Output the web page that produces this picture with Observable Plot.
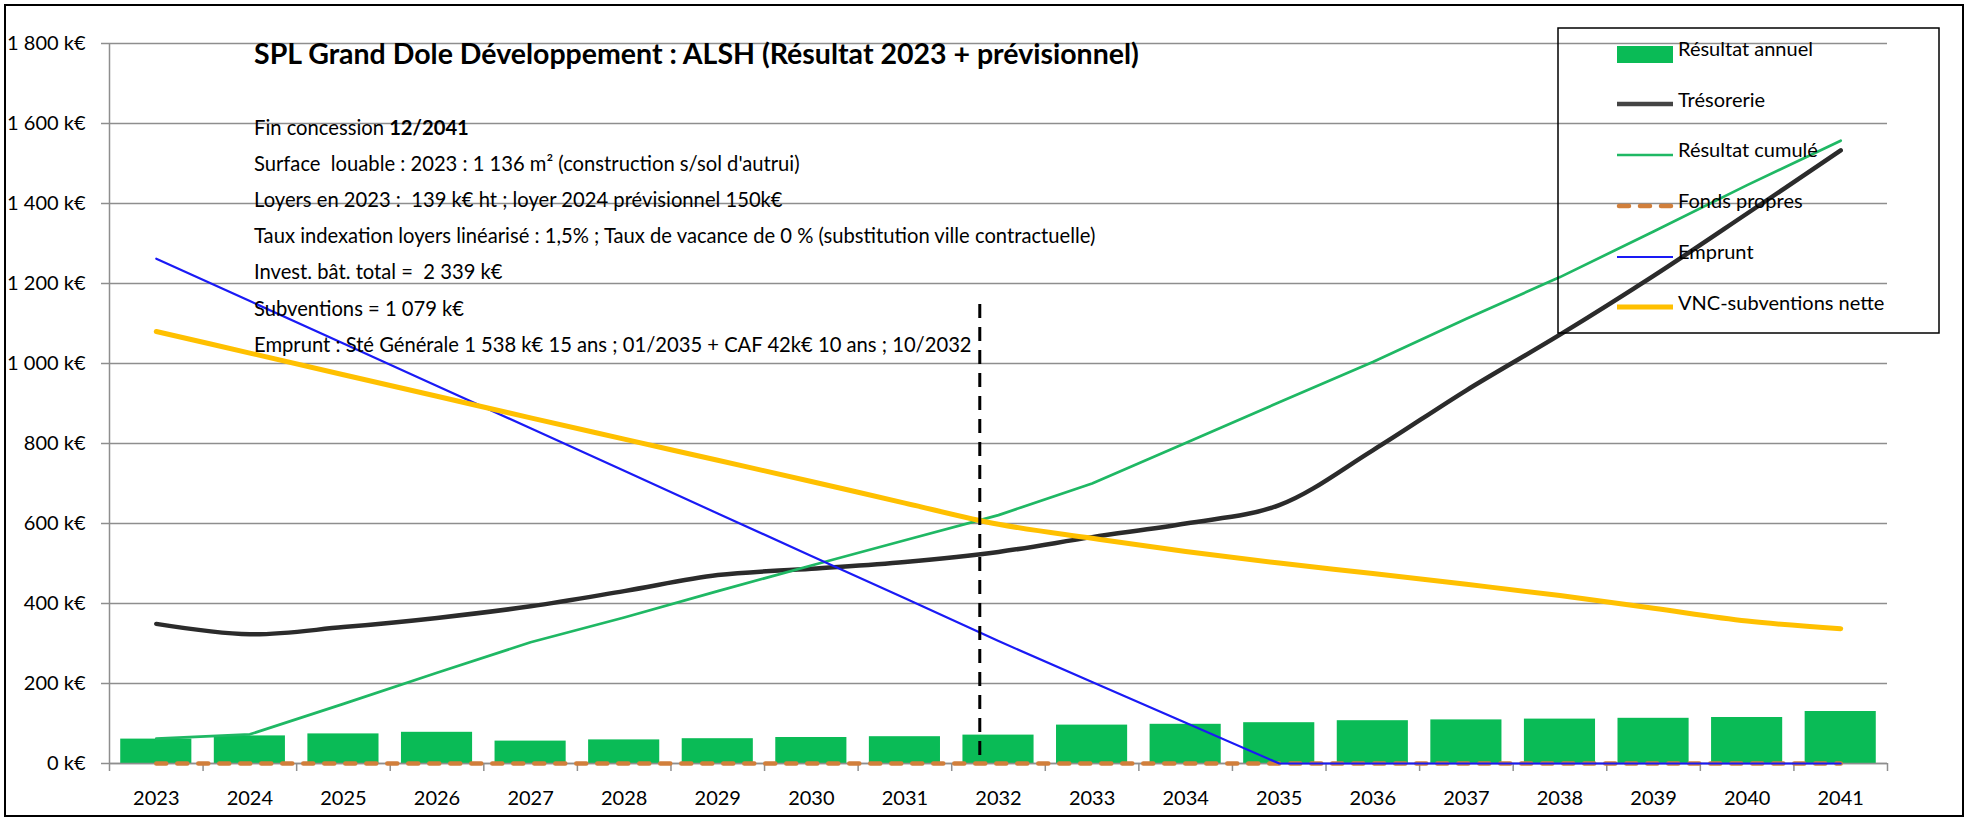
<!DOCTYPE html>
<html><head><meta charset="utf-8">
<script src="https://cdn.jsdelivr.net/npm/d3@7"></script>
<script src="https://cdn.jsdelivr.net/npm/@observablehq/plot@0.6"></script>
<style>
body{margin:0;background:#fff;}
#wrap{position:relative;width:1968px;height:818px;font-family:Lato,sans-serif;}
#wrap svg{position:absolute;left:0;top:0;}
.pre{white-space:pre;}
</style></head><body><div id="wrap"></div>
<script>
// ---- data (k€) ----
const years = [2023,2024,2025,2026,2027,2028,2029,2030,2031,2032,2033,2034,2035,2036,2037,2038,2039,2040,2041];
const resultatAnnuel = [61,69,74,78,56,59,62,65,67,71,96,98,102,107,109,111,113,115,130];
const tresorerie     = [349,323,341,364,393,431,471,487,504,529,566,600,646,783,933,1072,1219,1375,1533];
const resultatCumule = [62,73,149,227,303,365,431,495,558,621,700,801,903,1004,1112,1216,1330,1446,1557];
const fondsPropres   = [0,0,0,0,0,0,0,0,0,0,0,0,0,0,0,0,0,0,0];
const emprunt        = [1262,1156,1050,944,838,732,625,519,413,306,204,102,0,0,0,0,0,0,0];
const vncSubventions = [1080,1026,972,918,864,811,758,705,651,598,563,530,501,475,448,420,388,356,337];
const yTicks = [0,200,400,600,800,1000,1200,1400,1600,1800];
const markerYear = 2031.8;      // fin emprunt CAF 10/2032
const markerRange = [20, 1160];
const seriesNames = ["Résultat annuel","Trésorerie","Résultat cumulé","Fonds propres","Emprunt","VNC-subventions nette"];
const titleText = "SPL Grand Dole Développement : ALSH (Résultat 2023 + prévisionnel)";
const notes = [
  ["Fin concession ", "12/2041"],
  ["Surface  louable : 2023 : 1 136 m² (construction s/sol d'autrui)"],
  ["Loyers en 2023 :  139 k€ ht ; loyer 2024 prévisionnel 150k€"],
  ["Taux indexation loyers linéarisé : 1,5% ; Taux de vacance de 0 % (substitution ville contractuelle)"],
  ["Invest. bât. total =  2 339 k€"],
  ["Subventions = 1 079 k€"],
  ["Emprunt : Sté Générale 1 538 k€ 15 ans ; 01/2035 + CAF 42k€ 10 ans ; 10/2032"]
];

// ---- styles ----
const C = {bar:"#0abb56", tres:"#2b2b2b", cum:"#1fb864", fonds:"#d17f3b", emp:"#1a1af5", vnc:"#ffc000", grid:"#8e8e8e"};

const rows = years.map((year,i)=>({year, annuel:resultatAnnuel[i], tres:tresorerie[i], cum:resultatCumule[i], fonds:fondsPropres[i], emp:emprunt[i], vnc:vncSubventions[i]}));
const boundaries = [years[0]-0.5, ...years.map(y=>y+0.5)];
const fmt = d3.formatLocale({thousands:" ", grouping:[3], decimal:",", currency:["","€"]}).format(",");

const plot = Plot.plot({
  width:1968, height:818,
  marginLeft:109, marginRight:81, marginTop:43, marginBottom:55,
  style:{fontFamily:"Lato, sans-serif", fontSize:"20px", color:"#000", background:"transparent", overflow:"visible"},
  x:{type:"linear", domain:[years[0]-0.5, years[years.length-1]+0.5]},
  y:{domain:[0,1800]},
  marks:[
    Plot.gridY(yTicks, {stroke:C.grid, strokeOpacity:1, strokeWidth:1.5}),
    Plot.axisY(yTicks, {tickSize:8, tickPadding:16, tickFormat:d=>fmt(d)+" k€", stroke:C.grid, strokeWidth:1.5, fill:"#000", label:null}),
    Plot.ruleX([years[0]-0.5], {y1:0, y2:1800, stroke:C.grid, strokeWidth:1.5}),
    Plot.axisX(boundaries, {tickSize:8, tickFormat:()=>"", stroke:C.grid, strokeWidth:1.5, label:null}),
    Plot.axisX(years, {tickSize:0, tickPadding:27, tickFormat:d=>String(d), fill:"#000", label:null}),
    Plot.rectY(rows, {x1:d=>d.year-0.38, x2:d=>d.year+0.38, y:"annuel", fill:C.bar}),
    Plot.ruleY([0], {stroke:C.grid, strokeWidth:1.5}),
    Plot.lineY(rows, {x:"year", y:"tres", stroke:C.tres, strokeWidth:4.5, curve:"catmull-rom"}),
    Plot.lineY(rows, {x:"year", y:"cum", stroke:C.cum, strokeWidth:2.7}),
    Plot.lineY(rows, {x:"year", y:"fonds", stroke:C.fonds, strokeWidth:4.5, strokeDasharray:"10,11", strokeLinecap:"round"}),
    Plot.lineY(rows, {x:"year", y:"emp", stroke:C.emp, strokeWidth:2.2}),
    Plot.lineY(rows, {x:"year", y:"vnc", stroke:C.vnc, strokeWidth:5, curve:"catmull-rom"}),
    Plot.ruleX([markerYear], {y1:markerRange[0], y2:markerRange[1], stroke:"#000", strokeWidth:3, strokeDasharray:"14,9"})
  ]
});
document.getElementById("wrap").appendChild(plot);

// ---- overlay: border, title, notes, legend ----
const ov = d3.select("#wrap").append("svg").attr("width",1968).attr("height",818)
  .style("font-family","Lato, sans-serif");
ov.append("rect").attr("x",5).attr("y",5).attr("width",1958).attr("height",811)
  .attr("fill","none").attr("stroke","#000").attr("stroke-width",2);
ov.append("text").attr("x",254).attr("y",64).attr("font-size",28.5).attr("font-weight",700).text(titleText);
notes.forEach((parts,i)=>{
  const t = ov.append("text").attr("class","pre").attr("x",254).attr("y",135+i*36.1).attr("font-size",20.2);
  t.append("tspan").text(parts[0]);
  if (parts[1]) t.append("tspan").attr("font-weight",700).text(parts[1]);
});
const lg = ov.append("g");
lg.append("rect").attr("x",1558).attr("y",28).attr("width",381).attr("height",305)
  .attr("fill","none").attr("stroke","#000").attr("stroke-width",1.5);
const baselines = [56,107,157,208,259,310];
const swatches = [
  g=>g.append("rect").attr("x",1617).attr("y",46).attr("width",56).attr("height",17).attr("fill",C.bar),
  g=>g.append("line").attr("x1",1617).attr("x2",1673).attr("y1",104).attr("y2",104).attr("stroke","#444").attr("stroke-width",4.5),
  g=>g.append("line").attr("x1",1617).attr("x2",1673).attr("y1",155).attr("y2",155).attr("stroke",C.cum).attr("stroke-width",2.7),
  g=>g.append("line").attr("x1",1619).attr("x2",1673).attr("y1",206).attr("y2",206).attr("stroke",C.fonds).attr("stroke-width",4.5).attr("stroke-dasharray","10,11").attr("stroke-linecap","round"),
  g=>g.append("line").attr("x1",1617).attr("x2",1673).attr("y1",257).attr("y2",257).attr("stroke",C.emp).attr("stroke-width",2),
  g=>g.append("line").attr("x1",1617).attr("x2",1673).attr("y1",307).attr("y2",307).attr("stroke",C.vnc).attr("stroke-width",5)
];
seriesNames.forEach((name,i)=>{
  swatches[i](lg);
  lg.append("text").attr("x",1678).attr("y",baselines[i]).attr("font-size",20).text(name);
});
</script></body></html>
